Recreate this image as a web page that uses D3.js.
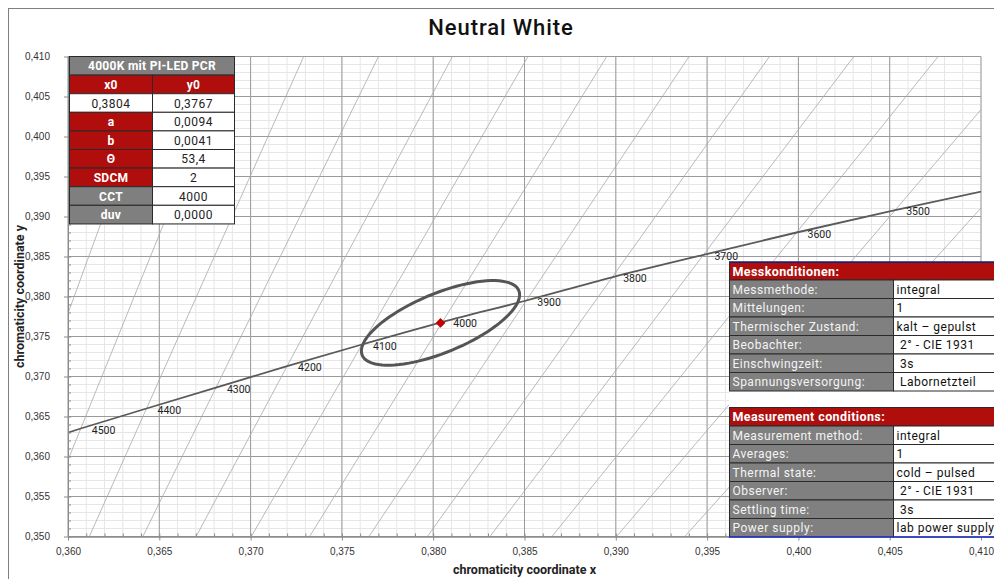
<!DOCTYPE html>
<html>
<head>
<meta charset="utf-8">
<script src="https://cdn.jsdelivr.net/npm/d3@7"></script>
<style>
  body { margin: 0; background: #fff; }
  svg { display: block; font-family: Roboto, "Open Sans", sans-serif; }
</style>
</head>
<body>
<svg id="chart"></svg>
<script>
// ---- data ----
const chartTitle = 'Neutral White';
const xTickValues = [0.360, 0.365, 0.370, 0.375, 0.380, 0.385, 0.390, 0.395, 0.400, 0.405, 0.410];
const yTickValues = [0.350, 0.355, 0.360, 0.365, 0.370, 0.375, 0.380, 0.385, 0.390, 0.395, 0.400, 0.405, 0.410];

// planckian locus points (CIE 1931 x, y) and isotherm slope t in the uv plane
const locusCct = [3200, 3300, 3400, 3500, 3600, 3700, 3800, 3900, 4000, 4100, 4200, 4300, 4400, 4500, 4600, 4700, 4800];
const locusX = [0.4232, 0.4170, 0.4110, 0.4053, 0.3999, 0.3948, 0.3898, 0.3851, 0.3805, 0.3761, 0.3720, 0.3681, 0.3643, 0.3607, 0.3573, 0.3540, 0.3509];
const locusY = [0.3991, 0.3964, 0.3936, 0.3908, 0.3880, 0.3852, 0.3824, 0.3795, 0.3768, 0.3740, 0.3713, 0.3686, 0.3660, 0.3635, 0.3610, 0.3586, 0.3562];
const isoSlope = [-2.266, -2.113, -1.985, -1.873, -1.767, -1.677, -1.598, -1.523, -1.451, -1.394, -1.340, -1.288, -1.238, -1.195, -1.156, -1.120, -1.084];
const cctLabels = [3500, 3600, 3700, 3800, 3900, 4000, 4100, 4200, 4300, 4400, 4500];

// measured point + MacAdam ellipse (a, b given for 3 steps)
const x0 = 0.3804, y0 = 0.3767;
const ellA = 0.0094, ellB = 0.0041, ellTheta = 53.4, sdcm = 2;
const cct = 4000, duv = 0.0000;
const tableTitle = '4000K mit PI-LED PCR';

const condTitleDe = 'Messkonditionen:';
const condLabelsDe = ['Messmethode:', 'Mittelungen:', 'Thermischer Zustand:', 'Beobachter:', 'Einschwingzeit:', 'Spannungsversorgung:'];
const condValuesDe = ['integral', '1', 'kalt – gepulst', ' 2° - CIE 1931', ' 3s', ' Labornetzteil'];
const condTitleEn = 'Measurement conditions:';
const condLabelsEn = ['Measurement method:', 'Averages:', 'Thermal state:', 'Observer:', 'Settling time:', 'Power supply:'];
const condValuesEn = ['integral', '1', 'cold – pulsed', ' 2° - CIE 1931', ' 3s', 'lab power supply'];

// ---- layout ----
let width = 994;
let height = 579;
let pLeft = 68, pRight = 981, pTop = 56.5, pBottom = 536.5;
const red = '#b00d0d';
const grey = '#808080';

let svg = d3.select('#chart').attr('width', width).attr('height', height);

let xScale = d3.scaleLinear().domain([0.36, 0.41]).range([pLeft, pRight]);
let yScale = d3.scaleLinear().domain([0.35, 0.41]).range([pBottom, pTop]);
let fmt = (d) => d3.format('.3f')(d).replace('.', ',');
let fmtComma = (d, p) => d3.format('.' + p + 'f')(d).replace('.', ',');

// outer frame
svg.append('rect')
    .attr('x', 8.5).attr('y', 8.5)
    .attr('width', 1000).attr('height', 600)
    .attr('fill', '#fff')
    .attr('stroke', '#7f7f7f');

svg.append('text')
    .attr('x', 501).attr('y', 35)
    .attr('text-anchor', 'middle')
    .style('font-size', '22px')
    .style('font-weight', 500)
    .style('letter-spacing', '0.9px')
    .attr('fill', '#111')
    .text(chartTitle);

svg.append('clipPath').attr('id', 'plotClip')
    .append('rect')
    .attr('x', pLeft).attr('y', pTop)
    .attr('width', pRight - pLeft).attr('height', pBottom - pTop);

//minor grid
let grid = svg.append('g');
grid.selectAll('.vmin')
    .data(xScale.ticks(50))
    .enter().append('line')
    .attr('x1', (d) => xScale(d)).attr('x2', (d) => xScale(d))
    .attr('y1', pTop).attr('y2', pBottom)
    .attr('stroke', '#e6e6e6').attr('stroke-width', 1);
grid.selectAll('.hmin')
    .data(yScale.ticks(60))
    .enter().append('line')
    .attr('y1', (d) => yScale(d)).attr('y2', (d) => yScale(d))
    .attr('x1', pLeft).attr('x2', pRight)
    .attr('stroke', '#e6e6e6').attr('stroke-width', 1);
//major grid
grid.selectAll('.vmaj')
    .data(xTickValues)
    .enter().append('line')
    .attr('x1', (d) => xScale(d)).attr('x2', (d) => xScale(d))
    .attr('y1', pTop).attr('y2', pBottom)
    .attr('stroke', '#9a9a9a').attr('stroke-width', 1);
grid.selectAll('.hmaj')
    .data(yTickValues)
    .enter().append('line')
    .attr('y1', (d) => yScale(d)).attr('y2', (d) => yScale(d))
    .attr('x1', pLeft).attr('x2', pRight)
    .attr('stroke', '#9a9a9a').attr('stroke-width', 1);

// isotherms: straight lines in uv, so also straight in xy
let toUV = (x, y) => {
    let d = -2 * x + 12 * y + 3;
    return [4 * x / d, 6 * y / d];
};
let toXY = (u, v) => {
    let d = 2 * u - 8 * v + 4;
    return [3 * u / d, 2 * v / d];
};
let plot = svg.append('g').attr('clip-path', 'url(#plotClip)');

let isoData = locusCct.map((c, i) => {
    let uv = toUV(locusX[i], locusY[i]);
    let k = 0.03;
    return [toXY(uv[0] - k, uv[1] - k * isoSlope[i]), toXY(uv[0] + k, uv[1] + k * isoSlope[i])];
});
plot.selectAll('.iso')
    .data(isoData)
    .enter().append('line')
    .attr('x1', (d) => xScale(d[0][0])).attr('y1', (d) => yScale(d[0][1]))
    .attr('x2', (d) => xScale(d[1][0])).attr('y2', (d) => yScale(d[1][1]))
    .attr('stroke', '#a8a8a8').attr('stroke-width', 0.8);

// planckian locus
let locusPts = locusCct.map((c, i) => [locusX[i], locusY[i]]);
plot.append('path')
    .datum(locusPts)
    .attr('d', d3.line().x((d) => xScale(d[0])).y((d) => yScale(d[1])).curve(d3.curveCatmullRom))
    .attr('fill', 'none')
    .attr('stroke', '#5a5a5a')
    .attr('stroke-width', 1.8);

// sdcm ellipse
let A = ellA * sdcm / 3, B = ellB * sdcm / 3;
let th = ellTheta * Math.PI / 180;
let ellPts = d3.range(0, 361, 4).map((deg) => {
    let s = deg * Math.PI / 180;
    return [x0 + A * Math.cos(th) * Math.cos(s) - B * Math.sin(th) * Math.sin(s),
            y0 + A * Math.sin(th) * Math.cos(s) + B * Math.cos(th) * Math.sin(s)];
});
plot.append('path')
    .datum(ellPts)
    .attr('d', d3.line().x((d) => xScale(d[0])).y((d) => yScale(d[1])).curve(d3.curveLinearClosed))
    .attr('fill', 'none')
    .attr('stroke', '#555')
    .attr('stroke-width', 3);

plot.append('path')
    .attr('d', d3.symbol(d3.symbolSquare, 48)())
    .attr('transform', 'translate(' + xScale(x0) + ',' + yScale(y0) + ') rotate(45)')
    .attr('fill', '#c00000');

// cct labels
plot.selectAll('.cctlab')
    .data(cctLabels)
    .enter().append('text')
    .attr('x', (d) => xScale(locusX[locusCct.indexOf(d)]) + 11)
    .attr('y', (d) => yScale(locusY[locusCct.indexOf(d)]) + 5)
    .style('font-size', '10.5px')
    .attr('fill', '#222')
    .text((d) => d);

// axes
let xAxis = d3.axisBottom(xScale).tickValues(xTickValues).tickFormat(fmt).tickSize(4).tickPadding(7).tickSizeOuter(0);
let yAxis = d3.axisLeft(yScale).tickValues(yTickValues).tickFormat(fmt).tickSize(4).tickPadding(14).tickSizeOuter(0);
let xMinor = d3.axisBottom(xScale).ticks(50).tickFormat('').tickSize(-3).tickSizeOuter(0);
let yMinor = d3.axisLeft(yScale).ticks(60).tickFormat('').tickSize(-3).tickSizeOuter(0);

[xMinor, xAxis].forEach((ax) => {
    svg.append('g').attr('transform', 'translate(0,' + pBottom + ')').call(ax);
});
[yMinor, yAxis].forEach((ax) => {
    svg.append('g').attr('transform', 'translate(' + pLeft + ',0)').call(ax);
});
svg.selectAll('.domain, .tick line').attr('stroke', '#8a8a8a');
svg.selectAll('.tick text').style('font-size', '10px').attr('fill', '#333');

svg.append('text')
    .attr('x', (pLeft + pRight) / 2).attr('y', 574)
    .attr('text-anchor', 'middle')
    .style('font-size', '12.5px').style('font-weight', 700)
    .attr('fill', '#222')
    .text('chromaticity coordinate x');
svg.append('text')
    .attr('transform', 'translate(24,' + (pTop + pBottom) / 2 + ') rotate(-90)')
    .attr('text-anchor', 'middle')
    .style('font-size', '12.5px').style('font-weight', 700)
    .attr('fill', '#222')
    .text('chromaticity coordinate y');

// ---- tables ----
let drawCell = (g, x, y, w, h, txt, fill, color, bold, anchor) => {
    g.append('rect').attr('x', x).attr('y', y).attr('width', w).attr('height', h)
        .attr('fill', fill).attr('stroke', '#2a2a2a').attr('stroke-width', 1);
    g.append('text')
        .attr('x', anchor === 'middle' ? x + w / 2 : x + 3)
        .attr('y', y + h / 2 + 4.5)
        .attr('text-anchor', anchor)
        .attr('xml:space', 'preserve')
        .style('white-space', 'pre')
        .style('font-size', '12px')
        .style('font-weight', bold ? 700 : 400)
        .style('letter-spacing', bold ? '0.3px' : '0.5px')
        .attr('fill', color)
        .text(txt);
};

// left parameter table
let lt = svg.append('g');
let tx = 69.5, ty = 56.5, c1 = 83, c2 = 82, rh = 18.6;
drawCell(lt, tx, ty, c1 + c2, rh, tableTitle, '#7f7f7f', '#fff', true, 'middle');
drawCell(lt, tx, ty + rh, c1, rh, 'x0', red, '#fff', true, 'middle');
drawCell(lt, tx + c1, ty + rh, c2, rh, 'y0', red, '#fff', true, 'middle');
drawCell(lt, tx, ty + 2 * rh, c1, rh, fmtComma(x0, 4), '#fff', '#222', false, 'middle');
drawCell(lt, tx + c1, ty + 2 * rh, c2, rh, fmtComma(y0, 4), '#fff', '#222', false, 'middle');
let paramRows = [
    ['a', fmtComma(ellA, 4), red],
    ['b', fmtComma(ellB, 4), red],
    ['Θ', fmtComma(ellTheta, 1), red],
    ['SDCM', String(sdcm), red],
    ['CCT', String(cct), '#7f7f7f'],
    ['duv', fmtComma(duv, 4), '#7f7f7f']
];
paramRows.forEach((r, i) => {
    let yy = ty + (3 + i) * rh;
    drawCell(lt, tx, yy, c1, rh, r[0], r[2], '#fff', true, 'middle');
    drawCell(lt, tx + c1, yy, c2, rh, r[1], '#fff', '#222', false, 'middle');
});

// right condition tables
svg.append('rect').attr('x', 729).attr('y', 262).attr('width', 270).attr('height', 276).attr('fill', '#fff');
let drawCond = (y, headH, title, labels, values) => {
    let g = svg.append('g');
    let x = 729.5, w1 = 164, w2 = 110, h = 18.5;
    g.append('rect').attr('x', x).attr('y', y).attr('width', w1 + w2).attr('height', headH)
        .attr('fill', red).attr('stroke', '#2a2a2a');
    g.append('text').attr('x', x + 3).attr('y', y + headH / 2 + 4.5)
        .style('font-size', '12.5px').style('font-weight', 700).style('letter-spacing', '0.4px')
        .attr('fill', '#fff').text(title);
    labels.forEach((lab, i) => {
        let yy = y + headH + i * h;
        drawCell(g, x, yy, w1, h, lab, grey, '#f4f4f4', false, 'start');
        drawCell(g, x + w1, yy, w2, h, values[i], '#fff', '#111', false, 'start');
    });
    return y + headH + labels.length * h;
};
let end1 = drawCond(262.5, 17.5, condTitleDe, condLabelsDe, condValuesDe);
svg.append('line').attr('x1', 729).attr('x2', 994).attr('y1', 262).attr('y2', 262)
    .attr('stroke', '#1c1c7a').attr('stroke-width', 1.5);
let end2 = drawCond(407.5, 18.5, condTitleEn, condLabelsEn, condValuesEn);
svg.append('line').attr('x1', 729).attr('x2', 994).attr('y1', end2).attr('y2', end2)
    .attr('stroke', '#2233cc').attr('stroke-width', 1.5);
</script>
</body>
</html>
